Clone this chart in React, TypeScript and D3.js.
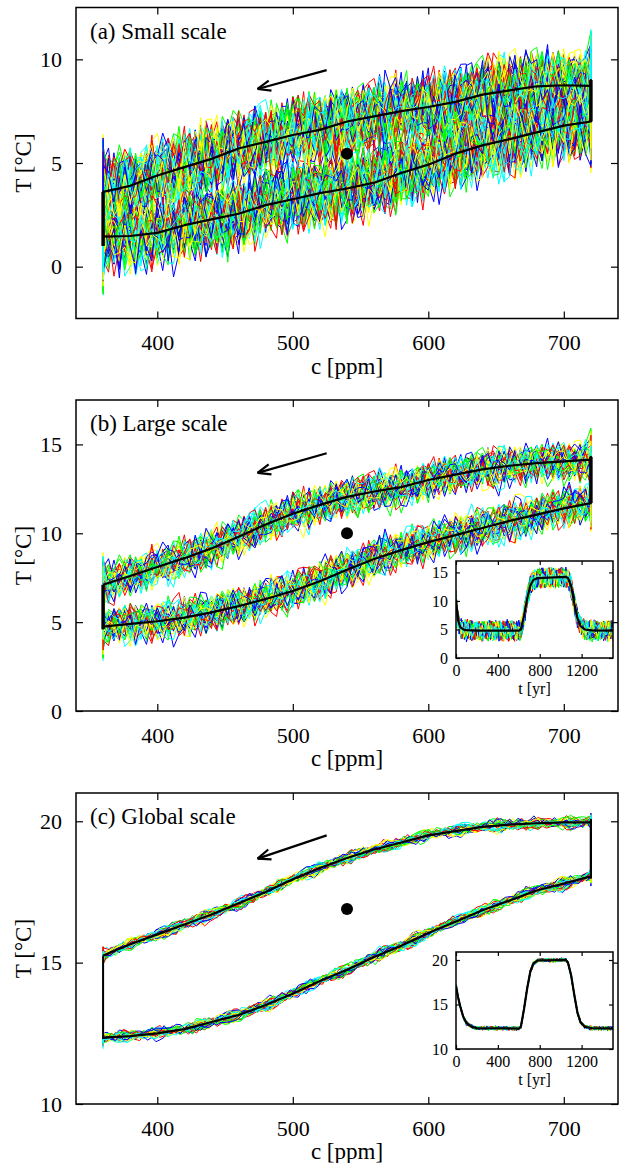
import React, { useEffect, useRef } from "react";
import * as d3 from "d3";

const cKnots = [360, 380, 400, 420, 440, 460, 480, 500, 520, 540, 560, 580, 600, 620, 640, 660, 680, 700, 720];

// (a) small scale: warming (lower) and cooling (upper) branch means, °C
const smallLower = [1.45, 1.48, 1.63, 2.0, 2.28, 2.55, 2.97, 3.25, 3.55, 3.77, 4.05, 4.52, 4.92, 5.45, 5.85, 6.15, 6.48, 6.8, 7.0];
const smallUpper = [3.61, 3.9, 4.4, 4.8, 5.2, 5.7, 6.02, 6.35, 6.6, 7.0, 7.25, 7.5, 7.7, 7.95, 8.3, 8.5, 8.7, 8.75, 8.72];
// (b) large scale
const largeLower = [4.75, 4.9, 5.05, 5.25, 5.55, 5.9, 6.3, 6.75, 7.3, 7.95, 8.55, 9.05, 9.5, 9.9, 10.3, 10.7, 11.05, 11.4, 11.7];
const largeUpper = [7.1, 7.6, 8.1, 8.6, 9.15, 9.8, 10.5, 11.1, 11.6, 12.05, 12.35, 12.6, 13.0, 13.3, 13.6, 13.8, 13.95, 14.05, 14.15];
// (c) global scale
const globalLower = [12.35, 12.4, 12.5, 12.65, 12.9, 13.15, 13.5, 13.9, 14.35, 14.75, 15.2, 15.6, 16.05, 16.45, 16.85, 17.2, 17.55, 17.8, 18.05];
const globalUpper = [15.25, 15.65, 16.0, 16.35, 16.7, 17.1, 17.5, 17.95, 18.35, 18.7, 19.0, 19.25, 19.5, 19.65, 19.8, 19.88, 19.93, 19.96, 19.97];

// range of the mean while c is held fixed at 360 / 720 ppm
const smallHold360 = [1.0, 3.6];
const smallHold720 = [7.0, 9.0];
const largeHold360 = [4.6, 7.1];
const largeHold720 = [11.7, 14.3];
const globalHold360 = [12.3, 15.25];
const globalHold720 = [18.0, 20.05];

// black dot and arrow (c, T)
const smallDot = [540, 5.45];
const largeDot = [540, 10.0];
const globalDot = [540, 16.9];
const smallArrow = [[525, 9.48], [474, 8.57]];
const largeArrow = [[525, 14.5], [474, 13.4]];
const globalArrow = [[525, 19.5], [474, 18.68]];

// insets: T against time
const tKnots = [0, 20, 40, 70, 100, 150, 200, 600, 620, 650, 680, 710, 740, 780, 1050, 1070, 1100, 1130, 1160, 1190, 1230, 1300, 1500];
const largeInsetMean = [10.2, 6.6, 5.4, 5.0, 4.9, 4.85, 4.8, 4.8, 5.0, 7.4, 10.4, 12.7, 13.7, 14.0, 14.2, 14.0, 12.6, 9.6, 7.0, 5.6, 5.0, 4.85, 4.8];
const globalInsetMean = [17.1, 15.8, 14.8, 13.6, 12.9, 12.5, 12.35, 12.3, 12.5, 14.5, 16.8, 18.7, 19.6, 19.95, 20.0, 19.7, 18.3, 16.1, 14.1, 13.0, 12.5, 12.35, 12.3];

const cTicks = [400, 500, 600, 700];
const smallTicks = [0, 5, 10];
const largeTicks = [0, 5, 10, 15];
const globalTicks = [10, 15, 20];
const insetTTicks = [0, 400, 800, 1200];
const largeInsetTicks = [0, 5, 10, 15];
const globalInsetTicks = [10, 15, 20];

// ensemble half-spread (°C) and member counts
const smallSpread = 1.65;
const largeSpread = 1.05;
const globalSpread = 0.2;
const largeInsetSpread = 1.6;
const globalInsetSpread = 0.22;
const smallMembers = 60;
const largeMembers = 40;
const globalMembers = 30;

const memberColors = ["#ff0000", "#00ff00", "#0000ff", "#ffff00", "#00ffff"];

// hand-typed deviation tables for the ensemble members
const jitterA = [0.42, -0.87, 0.15, 0.73, -0.31, -1.0, 0.58, 0.04, -0.66, 0.91,
  -0.22, 0.37, -0.95, 0.12, 0.68, -0.48, 0.99, -0.09, -0.74, 0.29,
  0.83, -0.57, -0.18, 0.51, -0.97, 0.24, 0.66, -0.39, 0.07, -0.81,
  0.95, -0.27, 0.35, -0.62, 0.18, 0.92, -0.44, -0.06, 0.71, -0.93,
  0.47, -0.14, 0.26, -0.71, 0.88, -0.35, 0.02, 0.61, -0.98, 0.33,
  -0.52, 0.79, -0.2, 0.45, -0.78, 0.1, 0.97, -0.6, -0.03, 0.55,
  -0.89, 0.21, 0.64, -0.41, 0.13, -0.9, 0.76, -0.25, 0.39, -0.69,
  0.86, -0.12, 0.31, -0.55, 0.94, -0.37, 0.08, -0.84, 0.49, 0.17,
  -0.64, 0.92, -0.29, 0.57, -0.99, 0.22, -0.46, 0.69, -0.16];
const jitterB = [-0.35, 0.62, -0.81, 0.14, 0.47, -0.58, 0.93, -0.12, -0.44, 0.28,
  0.71, -0.96, 0.05, 0.39, -0.67, 0.84, -0.23, 0.53, -0.05, -0.75,
  0.31, 0.98, -0.49, 0.11, -0.88, 0.66, -0.17, 0.42, -0.61, 0.2,
  0.77, -0.32, -0.94, 0.58, 0.03, -0.53, 0.87, -0.27, 0.36, -0.72,
  0.17, 0.6, -0.4, 0.9, -0.09, -0.63, 0.45, -0.2, 0.74, -0.85,
  0.25, -0.14, 0.51];

const W = 621;
const H = 1163;
const LEFT = 76;
const RIGHT = 618;
const PANEL_H = 311;
const INSET_L = 456;
const INSET_R = 613;
const INSET_H = 97;
const font = "'Liberation Serif', 'Times New Roman', serif";

const wobble = (m, j, fast, slow) => {
  const LA = jitterA.length;
  const LB = jitterB.length;
  const a = jitterA[(j * 5 + m * 11) % LA];
  const b = jitterB[(j * 3 + m * 7) % LB];
  const k = Math.floor(j / 9);
  const f = (j % 9) / 9;
  const s0 = jitterA[(k + m * 17) % LA];
  const s1 = jitterA[(k + 1 + m * 17) % LA];
  return fast * (0.75 * a + 0.45 * b) + slow * (s0 + (s1 - s0) * f);
};

const panels = [
  {
    key: "a", title: "(a) Small scale", top: 7.5, yDomain: [-2.5, 12.5], yTicks: smallTicks,
    lower: smallLower, upper: smallUpper, hold360: smallHold360, hold720: smallHold720,
    spread: smallSpread, fast: 1, slow: 0.3, members: smallMembers, step: 4,
    dot: smallDot, arrow: smallArrow, holdWidth: 3.5, inset: null,
  },
  {
    key: "b", title: "(b) Large scale", top: 400, yDomain: [0, 17.5], yTicks: largeTicks,
    lower: largeLower, upper: largeUpper, hold360: largeHold360, hold720: largeHold720,
    spread: largeSpread, fast: 1, slow: 0.4, members: largeMembers, step: 4,
    dot: largeDot, arrow: largeArrow, holdWidth: 3.5,
    inset: { top: 561, yDomain: [0, 17], yTicks: largeInsetTicks, mean: largeInsetMean, spread: largeInsetSpread, fast: 1, slow: 0.15, members: largeMembers },
  },
  {
    key: "c", title: "(c) Global scale", top: 793, yDomain: [10, 21], yTicks: globalTicks,
    lower: globalLower, upper: globalUpper, hold360: globalHold360, hold720: globalHold720,
    spread: globalSpread, fast: 0.55, slow: 1, members: globalMembers, step: 3,
    dot: globalDot, arrow: globalArrow, holdWidth: 2,
    inset: { top: 952, yDomain: [10, 20.9], yTicks: globalInsetTicks, mean: globalInsetMean, spread: globalInsetSpread, fast: 0.8, slow: 0.5, members: globalMembers },
  },
];

const styleAxis = (sel, size) => {
  sel.select(".domain").remove();
  sel.selectAll("line").attr("stroke", "#000").attr("stroke-width", 1.2);
  sel.selectAll("text").attr("font-family", font).attr("font-size", size).attr("fill", "#000");
};

const App = () => {
  const svgRef = useRef(null);

  useEffect(() => {
    const svg = d3.select(svgRef.current);
    svg.selectAll("*").remove();
    const defs = svg.append("defs");

    panels.forEach((p) => {
      const bottom = p.top + PANEL_H;
      const x = d3.scaleLinear().domain([340, 740]).range([LEFT, RIGHT]);
      const y = d3.scaleLinear().domain(p.yDomain).range([bottom, p.top]);
      const line = d3.line().x((d) => x(d[0])).y((d) => y(d[1]));
      const lowerAt = d3.scaleLinear().domain(cKnots).range(p.lower);
      const upperAt = d3.scaleLinear().domain(cKnots).range(p.upper);
      const g = svg.append("g");

      defs.append("clipPath").attr("id", "clip-" + p.key)
        .append("rect").attr("x", LEFT).attr("y", p.top).attr("width", RIGHT - LEFT).attr("height", PANEL_H);

      // ensemble members: hold at 360, ramp up, hold at 720, ramp down, hold at 360
      const steps = d3.range(360 + p.step, 720, p.step);
      const members = g.append("g").attr("clip-path", `url(#clip-${p.key})`);
      for (let m = 0; m < p.members; m++) {
        let j = 0;
        const wob = (s) => p.spread * s * wobble(m, j++, p.fast, p.slow);
        const pts = [];
        for (let k = 0; k < 5; k++) pts.push([360, lowerAt(360) + wob(1.4)]);
        steps.forEach((c) => pts.push([c, lowerAt(c) + wob(1)]));
        for (let k = 0; k < 3; k++) pts.push([720, lowerAt(720) + wob(1.4)]);
        for (let k = 0; k < 4; k++) pts.push([720, upperAt(720) + wob(1.4)]);
        steps.slice().reverse().forEach((c) => pts.push([c, upperAt(c) + wob(1)]));
        for (let k = 0; k < 3; k++) pts.push([360, upperAt(360) + wob(1.4)]);
        for (let k = 0; k < 3; k++) pts.push([360, lowerAt(360) + wob(1.4)]);
        members.append("path").attr("d", line(pts)).attr("fill", "none")
          .attr("stroke", memberColors[m % memberColors.length]).attr("stroke-width", 1);
      }

      // ensemble mean loop
      const meanPts = [
        [360, p.hold360[0]],
        ...cKnots.map((c, i) => [c, p.lower[i]]),
        [720, p.hold720[0]],
        [720, p.hold720[1]],
        ...cKnots.map((c, i) => [c, p.upper[i]]).reverse(),
        [360, p.hold360[1]],
      ];
      g.append("path").attr("d", line(meanPts)).attr("fill", "none")
        .attr("stroke", "#000").attr("stroke-width", 2.2).attr("stroke-linejoin", "round");
      [[360, p.hold360], [720, p.hold720]].forEach(([c, h]) => {
        g.append("line").attr("x1", x(c)).attr("x2", x(c)).attr("y1", y(h[0])).attr("y2", y(h[1]))
          .attr("stroke", "#000").attr("stroke-width", p.holdWidth);
      });

      // dot and arrow
      g.append("circle").attr("cx", x(p.dot[0])).attr("cy", y(p.dot[1])).attr("r", 6).attr("fill", "#000");
      const [tail, head] = p.arrow;
      const x0 = x(tail[0]), y0 = y(tail[1]), x1 = x(head[0]), y1 = y(head[1]);
      const ang = Math.atan2(y0 - y1, x0 - x1);
      g.append("line").attr("x1", x0).attr("y1", y0).attr("x2", x1).attr("y2", y1)
        .attr("stroke", "#000").attr("stroke-width", 2.2);
      [-0.38, 0.38].forEach((da) => {
        g.append("line").attr("x1", x1).attr("y1", y1)
          .attr("x2", x1 + 14 * Math.cos(ang + da)).attr("y2", y1 + 14 * Math.sin(ang + da))
          .attr("stroke", "#000").attr("stroke-width", 2.2);
      });

      // axes, ticks inside on all four sides
      g.append("g").attr("transform", `translate(0,${bottom})`)
        .call(d3.axisBottom(x).tickValues(cTicks).tickSize(-7).tickPadding(16))
        .call(styleAxis, 22);
      g.append("g").attr("transform", `translate(0,${p.top})`)
        .call(d3.axisTop(x).tickValues(cTicks).tickSize(-7).tickFormat(() => ""))
        .call(styleAxis, 22);
      g.append("g").attr("transform", `translate(${LEFT},0)`)
        .call(d3.axisLeft(y).tickValues(p.yTicks).tickSize(-7).tickPadding(14))
        .call(styleAxis, 22);
      g.append("g").attr("transform", `translate(${RIGHT},0)`)
        .call(d3.axisRight(y).tickValues(p.yTicks).tickSize(-7).tickFormat(() => ""))
        .call(styleAxis, 22);

      g.append("rect").attr("x", LEFT).attr("y", p.top).attr("width", RIGHT - LEFT).attr("height", PANEL_H)
        .attr("fill", "none").attr("stroke", "#000").attr("stroke-width", 1.5);

      g.append("text").attr("x", LEFT + 14).attr("y", p.top + 31).text(p.title)
        .attr("font-family", font).attr("font-size", 23);
      g.append("text").attr("x", (LEFT + RIGHT) / 2).attr("y", bottom + 55).text("c [ppm]")
        .attr("text-anchor", "middle").attr("font-family", font).attr("font-size", 23);
      g.append("text").attr("transform", `translate(31,${p.top + PANEL_H / 2}) rotate(-90)`)
        .text("T [°C]").attr("text-anchor", "middle").attr("font-family", font).attr("font-size", 23);

      if (!p.inset) return;

      // inset: T against time
      const q = p.inset;
      const ib = q.top + INSET_H;
      const tx = d3.scaleLinear().domain([0, 1500]).range([INSET_L, INSET_R]);
      const ty = d3.scaleLinear().domain(q.yDomain).range([ib, q.top]);
      const tline = d3.line().x((d) => tx(d[0])).y((d) => ty(d[1]));
      const meanAt = d3.scaleLinear().domain(tKnots).range(q.mean);
      const ig = svg.append("g");
      ig.append("rect").attr("x", INSET_L).attr("y", q.top).attr("width", INSET_R - INSET_L).attr("height", INSET_H).attr("fill", "#fff");
      defs.append("clipPath").attr("id", "iclip-" + p.key)
        .append("rect").attr("x", INSET_L).attr("y", q.top).attr("width", INSET_R - INSET_L).attr("height", INSET_H);
      const ts = d3.range(0, 1501, 10);
      const im = ig.append("g").attr("clip-path", `url(#iclip-${p.key})`);
      for (let m = 0; m < q.members; m++) {
        const pts = ts.map((t, j) => [t, meanAt(t) + q.spread * wobble(m, j + 7, q.fast, q.slow)]);
        im.append("path").attr("d", tline(pts)).attr("fill", "none")
          .attr("stroke", memberColors[m % memberColors.length]).attr("stroke-width", 1);
      }
      im.append("path").attr("d", tline(tKnots.map((t, i) => [t, q.mean[i]]))).attr("fill", "none")
        .attr("stroke", "#000").attr("stroke-width", 2.2);

      ig.append("g").attr("transform", `translate(0,${ib})`)
        .call(d3.axisBottom(tx).tickValues(insetTTicks).tickSize(-4).tickPadding(7).tickFormat(d3.format("d")))
        .call(styleAxis, 16);
      ig.append("g").attr("transform", `translate(0,${q.top})`)
        .call(d3.axisTop(tx).tickValues(insetTTicks).tickSize(-4).tickFormat(() => ""))
        .call(styleAxis, 16);
      ig.append("g").attr("transform", `translate(${INSET_L},0)`)
        .call(d3.axisLeft(ty).tickValues(q.yTicks).tickSize(-4).tickPadding(8))
        .call(styleAxis, 16);
      ig.append("g").attr("transform", `translate(${INSET_R},0)`)
        .call(d3.axisRight(ty).tickValues(q.yTicks).tickSize(-4).tickFormat(() => ""))
        .call(styleAxis, 16);
      ig.append("rect").attr("x", INSET_L).attr("y", q.top).attr("width", INSET_R - INSET_L).attr("height", INSET_H)
        .attr("fill", "none").attr("stroke", "#000").attr("stroke-width", 1.5);
      ig.append("text").attr("x", (INSET_L + INSET_R) / 2).attr("y", ib + 36).text("t [yr]")
        .attr("text-anchor", "middle").attr("font-family", font).attr("font-size", 16);
    });
  }, []);

  return (
    <svg ref={svgRef} width={W} height={H}
      style={{ position: "absolute", left: 0, top: 0, background: "#fff" }} />
  );
};

export default App;
